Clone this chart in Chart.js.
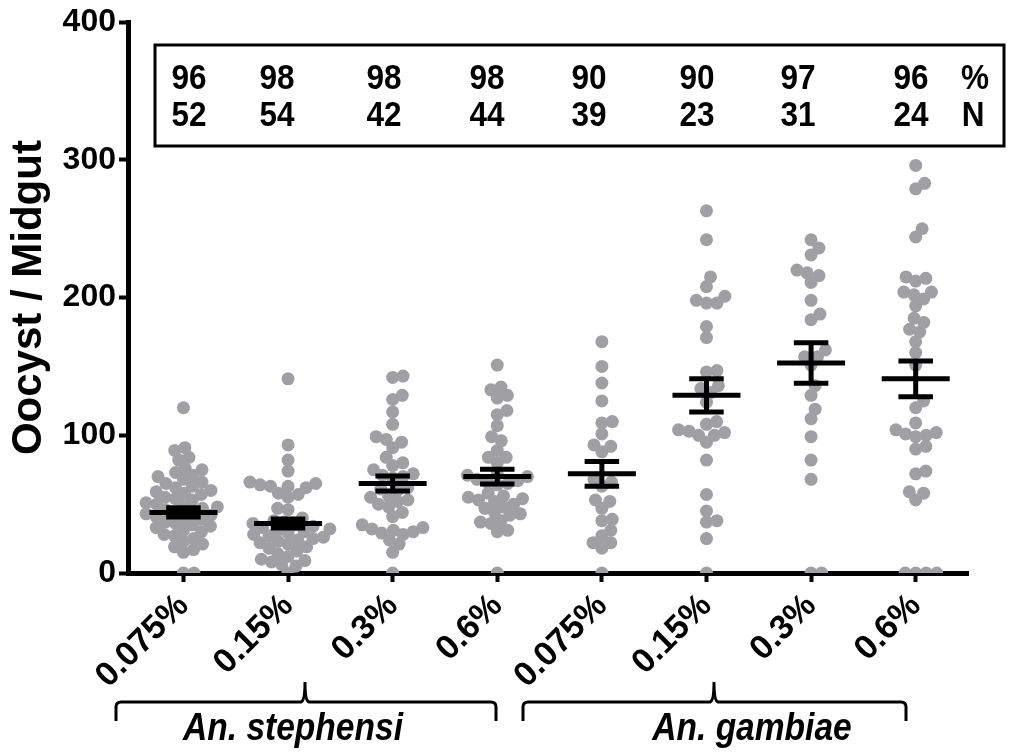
<!DOCTYPE html>
<html>
<head>
<meta charset="utf-8">
<script src="https://cdn.jsdelivr.net/npm/chart.js@4.4.0/dist/chart.umd.min.js"></script>
<style>
  html, body { margin: 0; padding: 0; background: #fff; }
</style>
</head>
<body>
<canvas id="myChart" width="1013" height="755"></canvas>
<script>
// doses, infection prevalence (%) and N per group
var groups = ['0.075%', '0.15%', '0.3%', '0.6%', '0.075%', '0.15%', '0.3%', '0.6%'];
var infected = [96, 98, 98, 98, 90, 90, 97, 96];
var counts = [52, 54, 42, 44, 39, 23, 31, 24];
var means = [44, 36, 65, 70, 72, 129, 152.5, 141];
var sems = [3.3, 3.3, 5.4, 5.4, 9, 12, 14.7, 13];
var yTicks = [0, 100, 200, 300, 400];

// oocysts per midgut, one array per group
var g1 = [120, 91, 89, 84, 82, 76, 75, 73, 71, 70, 68, 66, 65, 63, 62, 60, 59, 58, 57, 55, 54, 53, 51, 50, 49, 48, 47, 46, 45, 44, 43, 42, 41, 40, 39, 37, 36, 35, 34, 33, 31, 30, 28, 27, 25, 23, 21, 19, 17, 15, 0, 0];
var g2 = [141, 93, 82, 74, 66, 65, 64, 63, 63, 62, 58, 57, 55, 47, 46, 40, 38, 37, 36, 35, 34, 33, 32, 31, 30, 29, 28, 27, 26, 25, 24, 23, 22, 21, 19, 18, 16, 14, 12, 10, 9, 8, 6, 5, 0];
var g3 = [143, 142, 129, 126, 117, 108, 99, 97, 95, 91, 84, 80, 78, 75, 72, 71, 70, 69, 62, 61, 60, 56, 55, 53, 52, 50, 48, 44, 41, 35, 33, 32, 31, 30, 29, 28, 24, 21, 15, 0];
var g4 = [151, 135, 133, 129, 127, 118, 115, 107, 99, 96, 89, 84, 84, 80, 72, 71, 70, 68, 67, 66, 65, 64, 58, 56, 55, 54, 53, 52, 50, 48, 47, 44, 43, 42, 38, 37, 36, 31, 30, 0];
var g5 = [168, 150, 138, 125, 110, 109, 101, 93, 92, 88, 68, 66, 63, 53, 52, 47, 39, 38, 31, 27, 22, 22, 18, 0];
var g6 = [263, 242, 215, 208, 201, 198, 196, 196, 179, 171, 147, 146, 136, 134, 131, 124, 110, 108, 104, 103, 102, 100, 100, 95, 82, 57, 45, 38, 37, 25, 0];
var g7 = [242, 236, 231, 220, 218, 216, 211, 198, 188, 184, 162, 157, 157, 151, 136, 129, 119, 112, 99, 82, 68, 0, 0];
var g8 = [296, 283, 279, 250, 244, 215, 214, 212, 204, 204, 202, 199, 194, 185, 182, 177, 175, 168, 160, 151, 125, 120, 109, 104, 102, 101, 100, 99, 92, 90, 74, 72, 59, 58, 53, 0, 0, 0, 0];
var allGroups = [g1, g2, g3, g4, g5, g6, g7, g8];

var FONT = '"Liberation Sans", Arial, sans-serif';

// simple beeswarm so the dots don't sit on top of each other
var pxPerUnitY = 554 / 400;
var pxPerCat = 840 / 8.03;
var dot = 10.5;
function swarm(values) {
    var sorted = values.slice().sort(function(a, b) { return a - b; });
    var placed = [];
    sorted.forEach(function(v) {
        var y = v * pxPerUnitY;
        var near = placed.filter(function(p) { return Math.abs(p.y - y) < dot; });
        var cands = [0];
        near.forEach(function(p) {
            var dx = Math.sqrt(dot * dot - (p.y - y) * (p.y - y));
            cands.push(p.x + dx, p.x - dx);
        });
        cands.sort(function(a, b) { return Math.abs(a) - Math.abs(b); });
        var x = cands.find(function(c) {
            return near.every(function(p) {
                return (p.x - c) * (p.x - c) + (p.y - y) * (p.y - y) >= dot * dot - 0.01;
            });
        });
        placed.push({ x: x, y: y, v: v });
    });
    return placed;
}

var dots = [];
allGroups.forEach(function(vals, i) {
    swarm(vals).forEach(function(p) {
        dots.push({ x: i + 1 + p.x / pxPerCat, y: p.v });
    });
});

// mean line + SEM whiskers, broken with null points
var bars = [];
means.forEach(function(m, i) {
    var x = i + 1, s = sems[i];
    bars.push({ x: x - 0.325, y: m }, { x: x + 0.325, y: m }, { x: x, y: null });
    bars.push({ x: x - 0.165, y: m + s }, { x: x + 0.165, y: m + s }, { x: x, y: null });
    bars.push({ x: x - 0.165, y: m - s }, { x: x + 0.165, y: m - s }, { x: x, y: null });
    bars.push({ x: x, y: m - s }, { x: x, y: m + s }, { x: x, y: null });
});

function bracket(ctx, x1, x2, mid) {
    ctx.beginPath();
    ctx.moveTo(x1, 721);
    ctx.lineTo(x1, 707);
    ctx.quadraticCurveTo(x1, 702, x1 + 5, 702);
    ctx.lineTo(mid - 4, 702);
    ctx.quadraticCurveTo(mid, 701, mid, 682);
    ctx.quadraticCurveTo(mid, 701, mid + 4, 702);
    ctx.lineTo(x2 - 5, 702);
    ctx.quadraticCurveTo(x2, 702, x2, 707);
    ctx.lineTo(x2, 721);
    ctx.stroke();
}

// condensed text: draw with a horizontal squeeze
function squeezed(ctx, text, x, y, sx) {
    ctx.save();
    ctx.translate(x, y);
    ctx.scale(sx, 1);
    ctx.fillText(text, 0, 0);
    ctx.restore();
}

var overlay = {
    id: 'overlay',
    afterDraw: function(chart) {
        var ctx = chart.ctx;
        ctx.save();
        ctx.strokeStyle = '#000';
        ctx.lineWidth = 3;
        ctx.strokeRect(155, 45, 849, 101);

        ctx.fillStyle = '#000';
        ctx.font = 'bold 35px ' + FONT;
        ctx.textAlign = 'center';
        ctx.textBaseline = 'middle';
        var cols = [189, 277, 384, 487, 589, 697, 798, 911];
        for (var i = 0; i < cols.length; i++) {
            squeezed(ctx, String(infected[i]), cols[i], 79, 0.9);
            squeezed(ctx, String(counts[i]), cols[i], 116, 0.9);
        }
        squeezed(ctx, '%', 975, 79, 0.9);
        squeezed(ctx, 'N', 973, 116, 0.9);

        ctx.lineWidth = 3;
        bracket(ctx, 116, 496, 305);
        bracket(ctx, 523, 906, 714);

        ctx.font = 'italic bold 39px ' + FONT;
        ctx.textBaseline = 'alphabetic';
        squeezed(ctx, 'An. stephensi', 293, 740, 0.86);
        squeezed(ctx, 'An. gambiae', 752, 740, 0.86);
        ctx.restore();
    }
};

var ctx = document.getElementById('myChart').getContext('2d');
var myChart = new Chart(ctx, {
    type: 'scatter',
    data: {
        datasets: [
            {
                label: 'Oocysts',
                data: dots,
                backgroundColor: '#a0a0a4',
                borderWidth: 0,
                pointRadius: 6.5,
                order: 2
            },
            {
                type: 'line',
                label: 'Mean ± SEM',
                data: bars,
                showLine: true,
                spanGaps: false,
                borderColor: '#000',
                borderWidth: 5,
                borderCapStyle: 'butt',
                pointRadius: 0,
                order: 1
            }
        ]
    },
    options: {
        responsive: false,
        animation: false,
        devicePixelRatio: 1,
        layout: { padding: { top: 19, right: 45, left: 0, bottom: 0 } },
        plugins: {
            legend: { display: false },
            tooltip: { enabled: false }
        },
        scales: {
            x: {
                type: 'linear',
                min: 0.47,
                max: 8.5,
                afterBuildTicks: function(scale) {
                    scale.ticks = groups.map(function(g, i) { return { value: i + 1 }; });
                },
                afterFit: function(scale) { scale.height = 182; },
                ticks: {
                    autoSkip: false,
                    minRotation: 45,
                    maxRotation: 45,
                    padding: 4,
                    color: '#000',
                    font: { family: FONT, size: 34, weight: 'bold' },
                    callback: function(value) { return groups[value - 1]; }
                },
                grid: { drawOnChartArea: false, color: '#000', tickColor: '#000', tickWidth: 4, tickLength: 9 },
                border: { display: true, color: '#000', width: 5 }
            },
            y: {
                min: 0,
                max: 400,
                afterBuildTicks: function(scale) {
                    scale.ticks = yTicks.map(function(v) { return { value: v }; });
                },
                afterFit: function(scale) { scale.width = 128; },
                ticks: {
                    padding: 3,
                    color: '#000',
                    font: { family: FONT, size: 32, weight: 'bold' }
                },
                grid: { drawOnChartArea: false, color: '#000', tickColor: '#000', tickWidth: 4, tickLength: 9 },
                border: { display: true, color: '#000', width: 5 },
                title: {
                    display: true,
                    text: 'Oocyst / Midgut',
                    color: '#000',
                    padding: { top: 4, bottom: 0 },
                    font: { family: FONT, size: 42, weight: 'bold' }
                }
            }
        }
    },
    plugins: [overlay]
});
</script>
</body>
</html>
